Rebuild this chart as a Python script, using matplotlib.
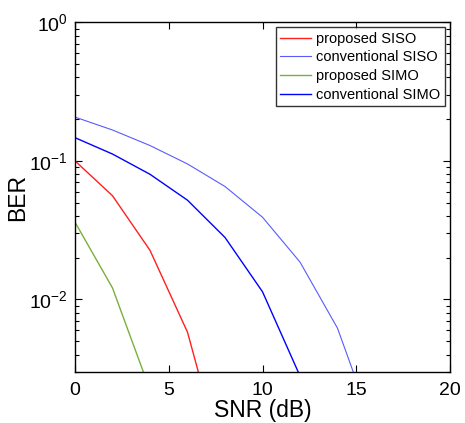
import matplotlib
matplotlib.use("Agg")
import matplotlib.pyplot as plt
import numpy as np
from matplotlib.ticker import LogLocator, NullFormatter

plt.rcParams['font.family'] = ['Liberation Sans', 'DejaVu Sans']
plt.rcParams['mathtext.fontset'] = 'custom'
plt.rcParams['mathtext.rm'] = 'Liberation Sans'

snr_prop_siso = [0, 2, 4, 6, 8]
ber_prop_siso = [0.100, 0.056, 0.0226, 0.0058, 0.00059]

snr_conv_siso = [0, 2, 4, 6, 8, 10, 12, 14, 16]
ber_conv_siso = [0.207, 0.167, 0.129, 0.095, 0.0653, 0.0392, 0.0186, 0.0062, 0.0011]

snr_prop_simo = [0, 2, 4]
ber_prop_simo = [0.0361, 0.0121, 0.00222]

snr_conv_simo = [0, 2, 4, 6, 8, 10, 12]
ber_conv_simo = [0.147, 0.112, 0.080, 0.052, 0.028, 0.01136, 0.0028]

labels = ['proposed SISO', 'conventional SISO', 'proposed SIMO', 'conventional SIMO']

fig = plt.figure(figsize=(4.65, 4.23), dpi=100)
ax = fig.add_axes([75/465, 1 - 372.3/423, 375/465, 350/423])

ax.semilogy(snr_prop_siso, ber_prop_siso, color='#ff2020', lw=1.0, label=labels[0])
ax.semilogy(snr_conv_siso, ber_conv_siso, color='#5a5aff', lw=0.8, label=labels[1])
ax.semilogy(snr_prop_simo, ber_prop_simo, color='#7aaf3c', lw=1.0, label=labels[2])
ax.semilogy(snr_conv_simo, ber_conv_simo, color='#0000ff', lw=1.0, label=labels[3])

ax.set_xlim(0, 20)
ax.set_ylim(10**-2.526, 1)
ax.set_xticks([0, 5, 10, 15, 20])
ax.yaxis.set_major_locator(LogLocator(base=10, numticks=10))
ax.yaxis.set_minor_locator(LogLocator(base=10, subs=np.arange(2, 10), numticks=20))
ax.yaxis.set_minor_formatter(NullFormatter())
ax.tick_params(which='both', direction='in', top=True, right=True, labelsize=14, width=0.8)
ax.tick_params(which='major', length=5)
ax.tick_params(which='minor', length=3)
ax.tick_params(axis='x', which='major', pad=7)
ax.tick_params(axis='y', which='major', pad=5)
for s in ax.spines.values():
    s.set_linewidth(1.0)

ax.set_xlabel('SNR (dB)', fontsize=16.5, labelpad=0)
ax.set_ylabel('BER', fontsize=16.5, labelpad=0)

leg = ax.legend(loc='upper right', fontsize=10.5, frameon=True, fancybox=False,
                edgecolor='black', handlelength=2.1, handletextpad=0.4,
                borderpad=0.3, labelspacing=0.32, borderaxespad=0.35)
leg.get_frame().set_linewidth(1.0)

fig.savefig('out.png', dpi=100)
